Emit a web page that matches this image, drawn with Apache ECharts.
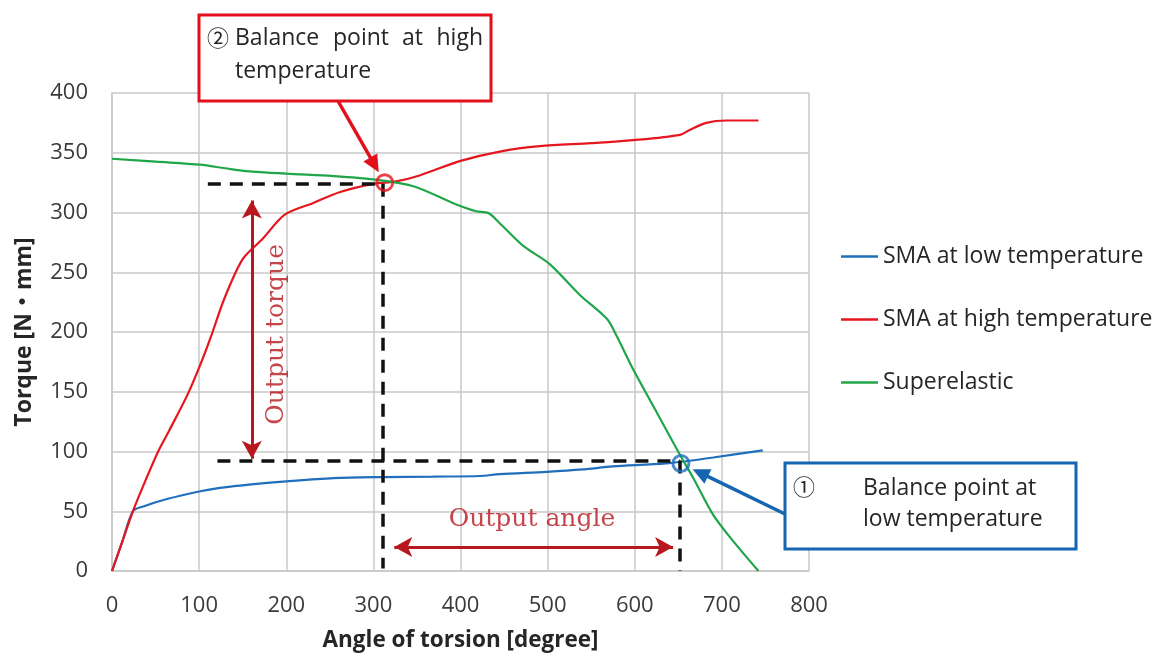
<!DOCTYPE html>
<html>
<head>
<meta charset="utf-8">
<script src="https://cdn.jsdelivr.net/npm/echarts@6/dist/echarts.min.js"></script>
<style>
  html, body { margin: 0; padding: 0; background: #fff; }
  #chart { width: 1158px; height: 657px; }
</style>
</head>
<body>
<div id="chart"></div>
<script>
// Torque vs. angle of torsion for the SMA and superelastic springs
const seriesNames = ['SMA at low temperature', 'SMA at high temperature', 'Superelastic'];

const smaLow = [
  [0, 0], [12, 25], [24, 50], [36, 54], [62, 60], [100, 66.5], [124, 69.5], [160, 72.5],
  [200, 75], [254, 77.7], [311, 78.6], [368, 79], [422, 79.5], [445, 81], [499, 83],
  [540, 85], [575, 87.5], [636, 90], [690, 95], [747, 101]
];

const smaHigh = [
  [0, 0], [12, 25], [24, 50], [38, 75], [53, 100], [66, 118], [87, 148], [101, 172],
  [114, 197], [129, 228], [150, 261], [173, 278], [198, 298], [231, 308], [261, 317],
  [300, 324], [326, 326], [353, 331], [399, 343], [445, 351], [491, 355.5], [550, 358],
  [598, 360.5], [652, 365], [663, 369], [682, 375], [705, 377], [742, 377]
];

const superelastic = [
  [0, 345], [50, 342.5], [101, 340], [130, 337], [154, 334.7], [200, 332.5], [254, 330.5],
  [300, 327.7], [346, 322], [391, 308], [418, 301], [432, 299.5], [445, 291], [472, 272],
  [502, 257], [537, 231], [568, 211], [579, 197], [598, 169], [625, 133], [652, 97],
  [667, 78], [690, 47], [713, 25], [742, 0]
];

// Balance points (angle, torque)
const highBalance = [313, 325];
const lowBalance = [653, 90];

// Guide levels read at the balance points
const guideTorque = [324, 92.5];   // output torque range (high, low)
const guideAngle = [311, 652];     // output angle range (start, end)
const guideStartAngle = [110, 121];

// Double arrows: output torque at angle 160.5, output angle at torque 20
const torqueArrow = [[160.5, 310], [160.5, 94]];
const angleArrow = [[324, 20], [644, 20]];

const textTorquePos = [189, 198];
const textAnglePos = [482, 43];

const xTicks = [0, 800, 100];
const yTicks = [0, 400, 50];

const colors = { low: '#1f6fbd', high: '#e5161f', sup: '#20a64a', arrow: '#b8171e' };
const uiFont = '"Open Sans", Lato, sans-serif';
const cjkFont = '"Open Sans", "Noto Sans CJK JP", sans-serif';
const serifFont = '"DejaVu Serif", "Liberation Serif", serif';

const chart = echarts.init(document.getElementById('chart'), null, { renderer: 'canvas' });

const dashStyle = { color: '#111', width: 3.5, type: [13, 9] };
const arrowLine = { color: colors.arrow, width: 3, type: 'solid' };

const option = {
  backgroundColor: '#fff',
  animation: false,
  grid: { left: 112, top: 93, width: 697, height: 480, containLabel: false },
  legend: {
    data: seriesNames,
    orient: 'vertical',
    left: 836,
    top: 240,
    itemGap: 40,
    icon: 'rect',
    itemWidth: 37,
    itemHeight: 2.5,
    textStyle: { fontFamily: uiFont, fontSize: 23, color: '#262626' }
  },
  xAxis: {
    type: 'value', min: xTicks[0], max: xTicks[1], interval: xTicks[2],
    name: 'Angle of torsion [degree]', nameLocation: 'middle', nameGap: 58,
    nameTextStyle: { fontFamily: uiFont, fontSize: 22.5, fontWeight: 'bold', color: '#262626' },
    axisLine: { show: true, lineStyle: { color: '#c8c8c8', width: 1.5 } },
    axisTick: { show: false },
    axisLabel: { fontFamily: uiFont, fontSize: 22, color: '#3a3a3a', margin: 24 },
    splitLine: { show: true, lineStyle: { color: '#c8c8c8', width: 1.5 } }
  },
  yAxis: {
    type: 'value', min: yTicks[0], max: yTicks[1], interval: yTicks[2],
    name: 'Torque [N・mm]', nameLocation: 'middle', nameGap: 76,
    nameTextStyle: { fontFamily: cjkFont, fontSize: 23, fontWeight: 'bold', color: '#262626' },
    axisLine: { show: true, lineStyle: { color: '#c8c8c8', width: 1.5 } },
    axisTick: { show: false },
    axisLabel: { fontFamily: uiFont, fontSize: 22, color: '#3a3a3a', margin: 24 },
    splitLine: { show: true, lineStyle: { color: '#c8c8c8', width: 1.5 } }
  },
  series: [
    {
      name: 'guides', type: 'line', data: [], silent: true, z: 3,
      markLine: {
        silent: true, animation: false, symbol: 'none',
        label: { show: false },
        lineStyle: dashStyle,
        data: [
          [{ coord: [guideStartAngle[0], guideTorque[0]] }, { coord: [guideAngle[0], guideTorque[0]] }],
          [{ coord: [guideAngle[0], guideTorque[0]] }, { coord: [guideAngle[0], 2] }],
          [{ coord: [guideStartAngle[1], guideTorque[1]] }, { coord: [guideAngle[1], guideTorque[1]] }],
          [{ coord: [guideAngle[1], guideTorque[1]] }, { coord: [guideAngle[1], 0] }],
          [{ coord: torqueArrow[0], symbol: 'arrow', symbolSize: [15, 18], lineStyle: arrowLine },
           { coord: torqueArrow[1], symbol: 'arrow', symbolSize: [15, 18] }],
          [{ coord: angleArrow[0], symbol: 'arrow', symbolSize: [15, 18], lineStyle: arrowLine },
           { coord: angleArrow[1], symbol: 'arrow', symbolSize: [15, 18] }]
        ]
      }
    },
    {
      name: seriesNames[0], type: 'line', data: smaLow, smooth: 0.3, symbol: 'none',
      lineStyle: { color: colors.low, width: 2.2 }, itemStyle: { color: colors.low }, z: 4
    },
    {
      name: seriesNames[1], type: 'line', data: smaHigh, smooth: 0.3, symbol: 'none',
      lineStyle: { color: colors.high, width: 2.2 }, itemStyle: { color: colors.high }, z: 4
    },
    {
      name: seriesNames[2], type: 'line', data: superelastic, smooth: 0.3, symbol: 'none',
      lineStyle: { color: colors.sup, width: 2.2 }, itemStyle: { color: colors.sup }, z: 4
    },
    {
      name: 'balance', type: 'scatter', silent: true, z: 6,
      symbol: 'circle', symbolSize: 16,
      data: [
        { value: highBalance, itemStyle: { color: 'rgba(255,255,255,0)', borderColor: colors.high, borderWidth: 3 } },
        { value: lowBalance, itemStyle: { color: 'rgba(255,255,255,0)', borderColor: colors.low, borderWidth: 3 } }
      ]
    },
    {
      name: 'notes', type: 'scatter', silent: true, z: 6, symbolSize: 0,
      data: [
        { value: textTorquePos, label: { formatter: 'Output torque', rotate: 90 } },
        { value: textAnglePos, label: { formatter: 'Output angle', rotate: 0 } }
      ],
      label: {
        show: true, position: 'inside', fontFamily: serifFont, fontSize: 25, color: colors.arrow
      }
    }
  ]
};

chart.setOption(option);

// Callout boxes with arrows pointing at the balance points
function arrowTo(start, center, gap, color) {
  const dx = center[0] - start[0], dy = center[1] - start[1];
  const len = Math.hypot(dx, dy);
  const ux = dx / len, uy = dy / len;
  const tip = [center[0] - ux * gap, center[1] - uy * gap];
  const headLen = 17, headHalf = 8;
  const base = [tip[0] - ux * headLen, tip[1] - uy * headLen];
  const px = -uy, py = ux;
  return [
    { type: 'line', z: 20, shape: { x1: start[0], y1: start[1], x2: base[0] + ux * 2, y2: base[1] + uy * 2 },
      style: { stroke: color, lineWidth: 3.5 } },
    { type: 'polygon', z: 20, shape: { points: [tip, [base[0] + px * headHalf, base[1] + py * headHalf], [base[0] - px * headHalf, base[1] - py * headHalf]] },
      style: { fill: color } }
  ];
}

const hiPx = chart.convertToPixel({ gridIndex: 0 }, highBalance);
const loPx = chart.convertToPixel({ gridIndex: 0 }, lowBalance);
const boxText = { fontFamily: uiFont, fontSize: 23, fill: '#262626', textVerticalAlign: 'middle' };
const circledText = Object.assign({}, boxText, { fontFamily: '"Noto Sans CJK JP", sans-serif', fontSize: 22 });

function txt(x, y, text, base, extra) {
  return { type: 'text', z: 21, x: x, y: y, style: Object.assign({ text: text }, base, extra || {}) };
}

const graphics = [
  { type: 'rect', z: 20, shape: { x: 199, y: 15, width: 292, height: 86 },
    style: { fill: '#fff', stroke: '#e3101c', lineWidth: 3 } },
  txt(207, 38, '②', circledText),
  txt(235, 38, 'Balance', boxText),
  txt(333, 38, 'point', boxText),
  txt(402, 38, 'at', boxText),
  txt(483, 38, 'high', boxText, { textAlign: 'right' }),
  txt(235, 71, 'temperature', boxText),

  { type: 'rect', z: 20, shape: { x: 785, y: 463, width: 291, height: 86 },
    style: { fill: '#fff', stroke: '#1565b0', lineWidth: 3 } },
  txt(793, 487, '①', circledText),
  txt(863, 488, 'Balance point at', boxText),
  txt(863, 519, 'low temperature', boxText)
].concat(
  arrowTo([338, 101], hiPx, 12, '#e3101c'),
  arrowTo([785, 514], loPx, 13, '#1565b0')
);

chart.setOption({ graphic: graphics });
</script>
</body>
</html>
